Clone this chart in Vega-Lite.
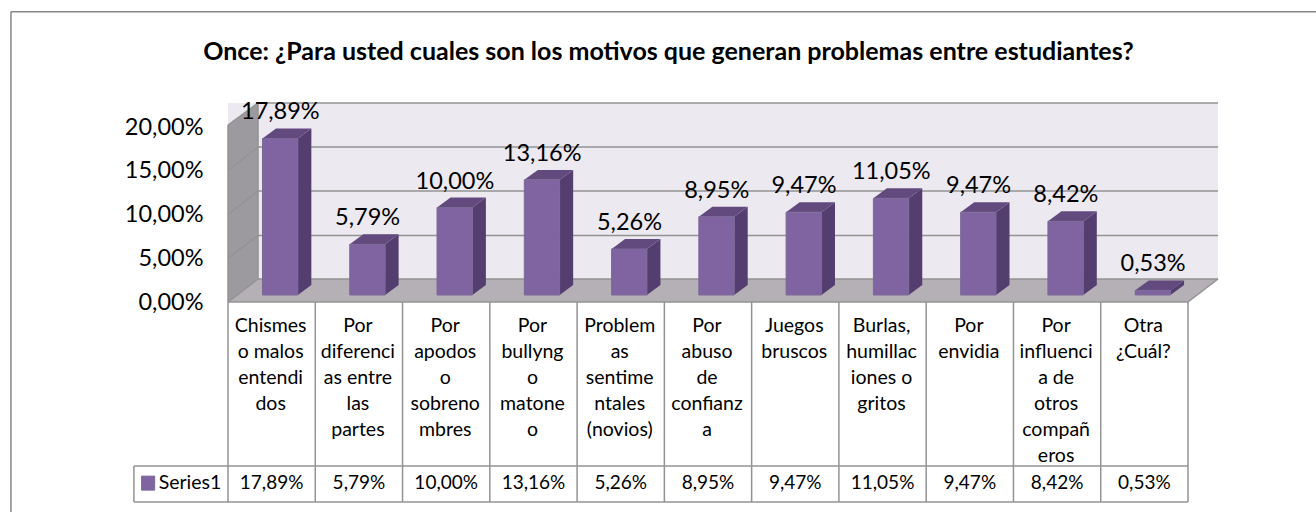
{"$schema":"https://vega.github.io/schema/vega-lite/v6.json","width":960,"height":175,"autosize":{"type":"none"},"padding":{"left":228,"top":127,"right":128,"bottom":210},"background":"white","title":{"text":"Once: ¿Para usted cuales son los motivos que generan problemas entre estudiantes?","anchor":"middle","frame":"group","dx":-39.5,"offset":-54,"font":"Lato","fontWeight":"bold","fontSize":25,"color":"#000000"},"config":{"view":{"stroke":null},"font":"Lato"},"datasets":{"bars":[{"cat":"Chismes\no malos\nentendi\ndos","i":0.5,"l":0.395,"r":0.8,"c":0.6,"v":17.89,"label":"17,89%"},{"cat":"Por\ndiferenci\nas entre\nlas\npartes","i":1.5,"l":1.395,"r":1.8,"c":1.6,"v":5.79,"label":"5,79%"},{"cat":"Por\napodos\no\nsobreno\nmbres","i":2.5,"l":2.395,"r":2.8,"c":2.6,"v":10,"label":"10,00%"},{"cat":"Por\nbullyng\no\nmatone\no","i":3.5,"l":3.395,"r":3.8,"c":3.6,"v":13.16,"label":"13,16%"},{"cat":"Problem\nas\nsentime\nntales\n(novios)","i":4.5,"l":4.395,"r":4.8,"c":4.6,"v":5.26,"label":"5,26%"},{"cat":"Por\nabuso\nde\nconfianz\na","i":5.5,"l":5.395,"r":5.8,"c":5.6,"v":8.95,"label":"8,95%"},{"cat":"Juegos\nbruscos","i":6.5,"l":6.395,"r":6.8,"c":6.6,"v":9.47,"label":"9,47%"},{"cat":"Burlas,\nhumillac\niones o\ngritos","i":7.5,"l":7.395,"r":7.8,"c":7.6,"v":11.05,"label":"11,05%"},{"cat":"Por\nenvidia","i":8.5,"l":8.395,"r":8.8,"c":8.6,"v":9.47,"label":"9,47%"},{"cat":"Por\ninfluenci\na de\notros\ncompañ\neros","i":9.5,"l":9.395,"r":9.8,"c":9.6,"v":8.42,"label":"8,42%"},{"cat":"Otra\n¿Cuál?","i":10.5,"l":10.395,"r":10.8,"c":10.6,"v":0.53,"label":"0,53%"}],"faces":[{"bar":0,"face":"side","x":0.8,"y":17.89,"y2":0},{"bar":0,"face":"side","x":0.955,"y":19.03,"y2":1.14},{"bar":1,"face":"side","x":1.8,"y":5.79,"y2":0},{"bar":1,"face":"side","x":1.955,"y":6.93,"y2":1.14},{"bar":2,"face":"side","x":2.8,"y":10,"y2":0},{"bar":2,"face":"side","x":2.955,"y":11.14,"y2":1.14},{"bar":3,"face":"side","x":3.8,"y":13.16,"y2":0},{"bar":3,"face":"side","x":3.955,"y":14.3,"y2":1.14},{"bar":4,"face":"side","x":4.8,"y":5.26,"y2":0},{"bar":4,"face":"side","x":4.955,"y":6.4,"y2":1.14},{"bar":5,"face":"side","x":5.8,"y":8.95,"y2":0},{"bar":5,"face":"side","x":5.955,"y":10.09,"y2":1.14},{"bar":6,"face":"side","x":6.8,"y":9.47,"y2":0},{"bar":6,"face":"side","x":6.955,"y":10.61,"y2":1.14},{"bar":7,"face":"side","x":7.8,"y":11.05,"y2":0},{"bar":7,"face":"side","x":7.955,"y":12.19,"y2":1.14},{"bar":8,"face":"side","x":8.8,"y":9.47,"y2":0},{"bar":8,"face":"side","x":8.955,"y":10.61,"y2":1.14},{"bar":9,"face":"side","x":9.8,"y":8.42,"y2":0},{"bar":9,"face":"side","x":9.955,"y":9.56,"y2":1.14},{"bar":10,"face":"side","x":10.8,"y":0.53,"y2":0},{"bar":10,"face":"side","x":10.955,"y":1.67,"y2":1.14}],"tops":[{"bar":0,"x":0.395,"y":17.89,"y2":17.89},{"bar":0,"x":0.55,"y":19.03,"y2":17.89},{"bar":0,"x":0.8,"y":19.03,"y2":17.89},{"bar":0,"x":0.955,"y":19.03,"y2":19.03},{"bar":1,"x":1.395,"y":5.79,"y2":5.79},{"bar":1,"x":1.55,"y":6.93,"y2":5.79},{"bar":1,"x":1.8,"y":6.93,"y2":5.79},{"bar":1,"x":1.955,"y":6.93,"y2":6.93},{"bar":2,"x":2.395,"y":10,"y2":10},{"bar":2,"x":2.55,"y":11.14,"y2":10},{"bar":2,"x":2.8,"y":11.14,"y2":10},{"bar":2,"x":2.955,"y":11.14,"y2":11.14},{"bar":3,"x":3.395,"y":13.16,"y2":13.16},{"bar":3,"x":3.55,"y":14.3,"y2":13.16},{"bar":3,"x":3.8,"y":14.3,"y2":13.16},{"bar":3,"x":3.955,"y":14.3,"y2":14.3},{"bar":4,"x":4.395,"y":5.26,"y2":5.26},{"bar":4,"x":4.55,"y":6.4,"y2":5.26},{"bar":4,"x":4.8,"y":6.4,"y2":5.26},{"bar":4,"x":4.955,"y":6.4,"y2":6.4},{"bar":5,"x":5.395,"y":8.95,"y2":8.95},{"bar":5,"x":5.55,"y":10.09,"y2":8.95},{"bar":5,"x":5.8,"y":10.09,"y2":8.95},{"bar":5,"x":5.955,"y":10.09,"y2":10.09},{"bar":6,"x":6.395,"y":9.47,"y2":9.47},{"bar":6,"x":6.55,"y":10.61,"y2":9.47},{"bar":6,"x":6.8,"y":10.61,"y2":9.47},{"bar":6,"x":6.955,"y":10.61,"y2":10.61},{"bar":7,"x":7.395,"y":11.05,"y2":11.05},{"bar":7,"x":7.55,"y":12.19,"y2":11.05},{"bar":7,"x":7.8,"y":12.19,"y2":11.05},{"bar":7,"x":7.955,"y":12.19,"y2":12.19},{"bar":8,"x":8.395,"y":9.47,"y2":9.47},{"bar":8,"x":8.55,"y":10.61,"y2":9.47},{"bar":8,"x":8.8,"y":10.61,"y2":9.47},{"bar":8,"x":8.955,"y":10.61,"y2":10.61},{"bar":9,"x":9.395,"y":8.42,"y2":8.42},{"bar":9,"x":9.55,"y":9.56,"y2":8.42},{"bar":9,"x":9.8,"y":9.56,"y2":8.42},{"bar":9,"x":9.955,"y":9.56,"y2":9.56},{"bar":10,"x":10.395,"y":0.53,"y2":0.53},{"bar":10,"x":10.55,"y":1.67,"y2":0.53},{"bar":10,"x":10.8,"y":1.67,"y2":0.53},{"bar":10,"x":10.955,"y":1.67,"y2":1.67}],"lines":[{"x":0.344,"x2":11.344,"y":2.63,"y2":2.63},{"x":0.344,"x2":11.344,"y":7.6,"y2":7.6},{"x":0.344,"x2":11.344,"y":12.69,"y2":12.69},{"x":0.344,"x2":11.344,"y":17.71,"y2":17.71},{"x":0.344,"x2":11.344,"y":22.74,"y2":22.74},{"x":0,"x2":0.344,"y":0,"y2":2.63},{"x":0,"x2":0.344,"y":5,"y2":7.6},{"x":0,"x2":0.344,"y":10,"y2":12.69},{"x":0,"x2":0.344,"y":15,"y2":17.71},{"x":0,"x2":0.344,"y":20.23,"y2":22.74},{"x":0,"x2":0,"y":0,"y2":20.23},{"x":0.344,"x2":0.344,"y":2.63,"y2":22.74},{"x":11,"x2":11.344,"y":0,"y2":2.63}],"table":[{"x":0,"x2":11,"y":0,"y2":0},{"x":-1.078,"x2":11,"y":-18.74,"y2":-18.74},{"x":-1.078,"x2":11,"y":-22.86,"y2":-22.86},{"x":-1.078,"x2":-1.078,"y":-18.74,"y2":-22.86},{"x":0,"x2":0,"y":0,"y2":-22.86},{"x":1,"x2":1,"y":0,"y2":-22.86},{"x":2,"x2":2,"y":0,"y2":-22.86},{"x":3,"x2":3,"y":0,"y2":-22.86},{"x":4,"x2":4,"y":0,"y2":-22.86},{"x":5,"x2":5,"y":0,"y2":-22.86},{"x":6,"x2":6,"y":0,"y2":-22.86},{"x":7,"x2":7,"y":0,"y2":-22.86},{"x":8,"x2":8,"y":0,"y2":-22.86},{"x":9,"x2":9,"y":0,"y2":-22.86},{"x":10,"x2":10,"y":0,"y2":-22.86},{"x":11,"x2":11,"y":0,"y2":-22.86}],"frame":[{"x":-2.487,"x2":-2.487,"y":33.18,"y2":-24},{"x":-2.487,"x2":12.6,"y":33.18,"y2":33.18}]},"layer":[{"data":{"values":[{"x":0,"y":2.63,"y2":22.74},{"x":11.344,"y":2.63,"y2":22.74}]},"mark":{"type":"area","color":"#ece9f1"},"encoding":{"x":{"field":"x","type":"quantitative","scale":{"domain":[0,11],"zero":false,"nice":false},"axis":null},"y":{"field":"y","type":"quantitative","scale":{"domain":[0,20],"zero":false,"nice":false},"axis":{"values":[0,5,10,15,20],"domain":false,"ticks":false,"grid":false,"title":null,"labelExpr":"replace(format(datum.value,'.2f'),'.',',')+'%'","labelFont":"Lato","labelFontSize":23.5,"labelColor":"#000000","labelPadding":25}},"y2":{"field":"y2"}}},{"data":{"values":[{"x":0,"y":0,"y2":0},{"x":0.344,"y":2.63,"y2":0},{"x":11,"y":2.63,"y2":0},{"x":11.344,"y":2.63,"y2":2.63}]},"mark":{"type":"area","color":"#b5b0b5"},"encoding":{"x":{"field":"x","type":"quantitative"},"y":{"field":"y","type":"quantitative"},"y2":{"field":"y2"}}},{"data":{"values":[{"x":0,"y":0,"y2":20.23},{"x":0.344,"y":2.63,"y2":22.74}]},"mark":{"type":"area","color":"#9c9a9e"},"encoding":{"x":{"field":"x","type":"quantitative"},"y":{"field":"y","type":"quantitative"},"y2":{"field":"y2"}}},{"data":{"name":"lines"},"mark":{"type":"rule","color":"#939393","strokeWidth":1.5},"encoding":{"x":{"field":"x","type":"quantitative"},"x2":{"field":"x2"},"y":{"field":"y","type":"quantitative"},"y2":{"field":"y2"}}},{"data":{"name":"faces"},"mark":{"type":"area","color":"#543e6f","yOffset":-7,"y2Offset":-7},"encoding":{"x":{"field":"x","type":"quantitative"},"y":{"field":"y","type":"quantitative"},"y2":{"field":"y2"},"detail":{"field":"bar"}}},{"data":{"name":"tops"},"mark":{"type":"area","color":"#624a7e","yOffset":-7,"y2Offset":-7},"encoding":{"x":{"field":"x","type":"quantitative"},"y":{"field":"y","type":"quantitative"},"y2":{"field":"y2"},"detail":{"field":"bar"}}},{"data":{"name":"bars"},"mark":{"type":"rect","color":"#8064a2","stroke":"#7a6a96","strokeWidth":1,"yOffset":-7,"y2Offset":-7},"encoding":{"x":{"field":"l","type":"quantitative"},"x2":{"field":"r"},"y":{"field":"v","type":"quantitative"},"y2":{"datum":0}}},{"data":{"name":"bars"},"mark":{"type":"text","font":"Lato","fontSize":23.5,"color":"#000000","baseline":"middle","align":"center","dy":-33},"encoding":{"x":{"field":"c","type":"quantitative"},"y":{"field":"v","type":"quantitative"},"text":{"field":"label"}}},{"data":{"name":"table"},"mark":{"type":"rule","color":"#939393","strokeWidth":1.5},"encoding":{"x":{"field":"x","type":"quantitative"},"x2":{"field":"x2"},"y":{"field":"y","type":"quantitative"},"y2":{"field":"y2"}}},{"data":{"name":"frame"},"mark":{"type":"rule","color":"#868686","strokeWidth":1.5},"encoding":{"x":{"field":"x","type":"quantitative"},"x2":{"field":"x2"},"y":{"field":"y","type":"quantitative"},"y2":{"field":"y2"}}},{"data":{"name":"bars"},"mark":{"type":"text","font":"Lato","fontSize":19.5,"color":"#000000","baseline":"top","align":"center","lineBreak":"\n","lineHeight":26,"dx":-1},"encoding":{"x":{"field":"i","type":"quantitative"},"y":{"datum":-1.7,"type":"quantitative"},"text":{"field":"cat"}}},{"data":{"name":"bars"},"mark":{"type":"text","font":"Lato","fontSize":19,"color":"#000000","baseline":"middle","align":"center"},"encoding":{"x":{"field":"i","type":"quantitative"},"y":{"datum":-20.69,"type":"quantitative"},"text":{"field":"label"}}},{"data":{"values":[{"name":"Series1","x":-0.794}]},"mark":{"type":"text","font":"Lato","fontSize":19.5,"color":"#000000","baseline":"middle","align":"left"},"encoding":{"x":{"field":"x","type":"quantitative"},"y":{"datum":-20.69,"type":"quantitative"},"text":{"field":"name"}}},{"data":{"values":[{"x":-0.99,"x2":-0.84}]},"mark":{"type":"rect","color":"#8064a2","stroke":"#7a6a96"},"encoding":{"x":{"field":"x","type":"quantitative"},"x2":{"field":"x2"},"y":{"datum":-19.9,"type":"quantitative"},"y2":{"datum":-21.5}}}]}
